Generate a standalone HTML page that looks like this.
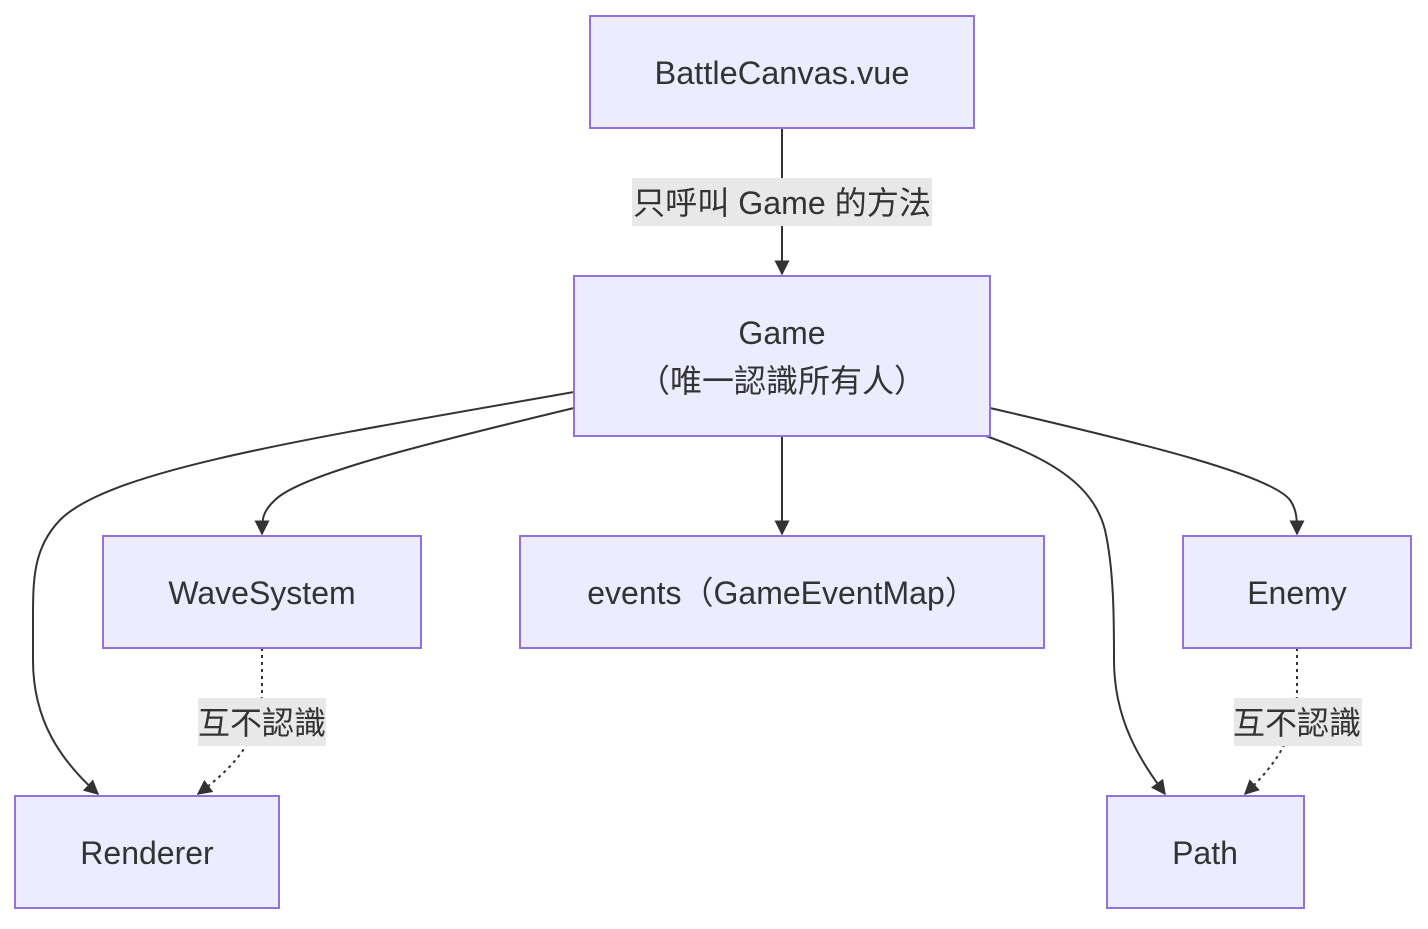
<!DOCTYPE html>
<html><head><meta charset="utf-8"><style>
html,body{margin:0;padding:0;background:#fff;}
svg text{font-family:"Liberation Sans","Noto Sans CJK TC",sans-serif;font-size:32px;fill:#333;}
</style></head><body>
<svg width="1428" height="924" viewBox="0 0 1428 924" xmlns="http://www.w3.org/2000/svg">
<defs>
<marker id="a" viewBox="0 0 10 10" refX="9" refY="5" markerWidth="15" markerHeight="15" orient="auto" markerUnits="userSpaceOnUse">
<path d="M0,0 L10,5 L0,10 z" fill="#333"/></marker>
</defs>
<g fill="none" stroke="#333" stroke-width="2">
<path d="M782,128 L782,274" marker-end="url(#a)"/>
<path d="M782,436 L782,534" marker-end="url(#a)"/>
<path d="M574,392 C300,440 110,470 60,520 C33,548 33,580 33,620 L33,660 C33,720 60,760 98,794" marker-end="url(#a)"/>
<path d="M574,408 C420,445 300,475 275,500 C262,512 262,520 262,534" marker-end="url(#a)"/>
<path d="M990,408 C1150,445 1270,475 1290,500 C1297,510 1297,520 1297,534" marker-end="url(#a)"/>
<path d="M986,436 C1060,462 1095,490 1105,530 C1114,570 1114,620 1114,660 C1114,720 1140,760 1165,794" marker-end="url(#a)"/>
<path d="M262,648 L262,690 C262,740 230,770 198,794" stroke-dasharray="3,4" marker-end="url(#a)"/>
<path d="M1297,648 L1297,690 C1297,740 1270,770 1245,794" stroke-dasharray="3,4" marker-end="url(#a)"/>
</g>
<g fill="#ECECFF" stroke="#9370DB" stroke-width="2">
<rect x="590" y="16" width="384" height="112"/>
<rect x="574" y="276" width="416" height="160"/>
<rect x="103" y="536" width="318" height="112"/>
<rect x="520" y="536" width="524" height="112"/>
<rect x="1183" y="536" width="228" height="112"/>
<rect x="15" y="796" width="264" height="112"/>
<rect x="1107" y="796" width="197" height="112"/>
</g>
<g fill="#e8e8e8">
<rect x="632" y="178" width="300" height="48"/>
<rect x="198" y="698" width="128" height="48"/>
<rect x="1234" y="698" width="128" height="48"/>
</g>
<g text-anchor="middle">
<text x="782" y="84" textLength="255" lengthAdjust="spacingAndGlyphs">BattleCanvas.vue</text>
<text x="782" y="214" textLength="298" lengthAdjust="spacingAndGlyphs">只呼叫 Game 的方法</text>
<text x="782" y="344">Game</text>
<text x="782" y="392">（唯一認識所有人）</text>
<text x="262" y="604">WaveSystem</text>
<text x="782" y="604">events（GameEventMap）</text>
<text x="1297" y="604">Enemy</text>
<text x="262" y="734">互不認識</text>
<text x="1297" y="734">互不認識</text>
<text x="147" y="864">Renderer</text>
<text x="1205" y="864">Path</text>
</g>
</svg>
</body></html>
